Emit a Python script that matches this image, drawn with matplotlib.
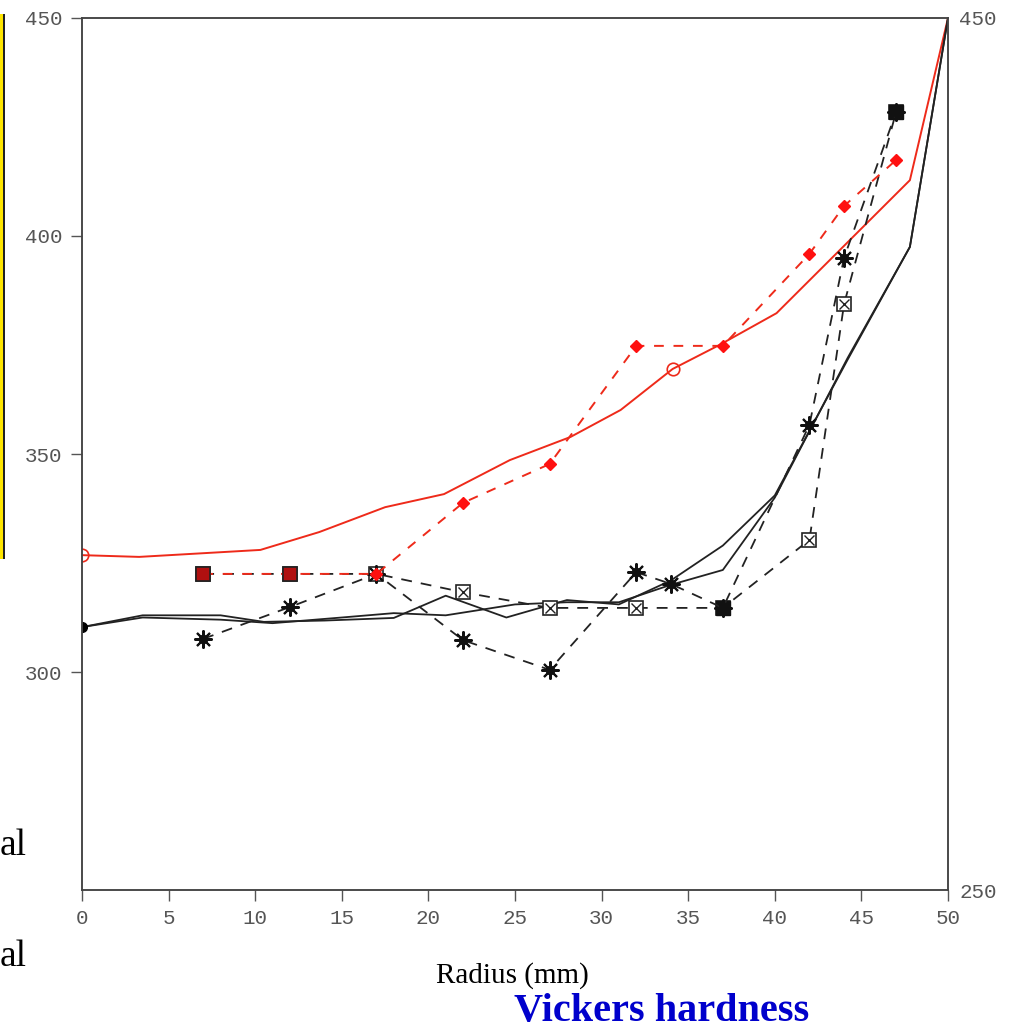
import matplotlib
matplotlib.use('Agg')
import matplotlib.pyplot as plt
from matplotlib.patches import Rectangle

# red model curve (solid)
model_x = [0, 3.3, 10.3, 13.7, 17.5, 20.9, 24.7, 28.2, 31.1, 34.1, 36.8, 40.1, 47.8, 50]
model_y = [326.8, 326.4, 328.0, 332.1, 337.8, 340.8, 348.6, 353.9, 360.1, 369.5, 375.0, 382.3, 412.8, 450]

# red measured (dashed, diamonds)
red_x = [7, 12, 17, 22, 27, 32, 37, 42, 44, 47]
red_y = [322.5, 322.5, 322.5, 338.8, 347.7, 374.8, 374.8, 395.9, 406.9, 417.4]

# black dashed, boxed-x markers
box_x = [7, 12, 17, 22, 27, 32, 37, 42, 44, 47]
box_y = [322.5, 322.5, 322.5, 318.3, 314.7, 314.7, 314.7, 330.3, 384.4, 428.4]

# black dashed, asterisk markers
star_x = [7, 12, 17, 22, 27, 32, 34, 37, 42, 44, 47]
star_y = [307.6, 314.9, 322.5, 307.3, 300.5, 322.9, 320.2, 314.7, 356.7, 395.0, 428.4]

# two black solid curves
solid_a_x = [0, 3.5, 8, 10.5, 14, 18, 21, 24.5, 28, 31, 34, 37, 40, 44.2, 47.8, 50]
solid_a_y = [310.3, 313, 313, 311.5, 311.8, 312.4, 317.5, 312.5, 316.5, 315.5, 321, 329, 340.5, 371.6, 397.5, 450]
solid_b_x = [0, 3.5, 8, 11, 15, 18, 21, 25, 28, 31, 34, 37, 40, 44.2, 47.8, 50]
solid_b_y = [310.3, 312.5, 312, 311.2, 312.5, 313.5, 313, 315.5, 316, 316, 320, 323.4, 340, 372, 397.5, 450]

x_ticks = [0, 5, 10, 15, 20, 25, 30, 35, 40, 45, 50]
left_ticks = [300, 350, 400, 450]
right_ticks = [250, 450]

fig = plt.figure(figsize=(10.3, 10.3), dpi=100)
ax = fig.add_axes([82/1030, 1-890/1030, 866/1030, 872/1030])

red = '#ee2a1a'
ax.plot(model_x, model_y, color=red, lw=1.4)
ax.plot([0, 34.1], [326.8, 369.5], ls='none', marker='o', ms=9, mfc='none', mec=red, mew=1.2)

ax.plot(solid_a_x, solid_a_y, color='#222222', lw=1.3)
ax.plot(solid_b_x, solid_b_y, color='#222222', lw=1.3)
ax.plot([0], [310.3], ls='none', marker='o', ms=7, color='black')

ax.plot(box_x, box_y, color='#222222', lw=1.3, ls=(0, (6, 5)))
ax.plot(box_x, box_y, ls='none', marker='s', ms=10, mfc='white', mec='#222222', mew=1.2)
ax.plot(box_x, box_y, ls='none', marker='x', ms=7, color='#222222', mew=1.0)
ax.plot([37, 47], [314.7, 428.4], ls='none', marker='s', ms=10, color='#111111')

ax.plot(star_x, star_y, color='#222222', lw=1.3, ls=(0, (6, 5)))
ax.plot(star_x, star_y, ls='none', marker=(8, 2, 0), ms=13, color='#111111', mew=1.5)
ax.plot(star_x, star_y, ls='none', marker='o', ms=6, color='#111111')

ax.plot(red_x, red_y, color=red, lw=1.4, ls=(0, (5, 5)))
ax.plot(red_x[2:], red_y[2:], ls='none', marker='D', ms=6, color='#ff1010')
ax.plot(red_x[:2], red_y[:2], ls='none', marker='s', ms=10, mfc='#b01010', mec='#222222', mew=1.2)

ax.set_xlim(0, 50)
ax.set_ylim(250, 450)
ax.set_xticks(x_ticks)
ax.set_yticks(left_ticks)

for s in ax.spines.values():
    s.set_color('#444444')
    s.set_linewidth(1.1)
ax.tick_params(axis='both', colors='#555555', direction='out', length=8, width=1, pad=6)
for lab in ax.get_xticklabels() + ax.get_yticklabels():
    lab.set_fontfamily('Liberation Mono')
    lab.set_fontsize(15)
    lab.set_color('#555555')

ax2 = ax.twinx()
ax2.set_ylim(250, 450)
ax2.set_yticks(right_ticks)
ax2.tick_params(axis='y', colors='#555555', direction='in', length=0, pad=8)
for lab in ax2.get_yticklabels():
    lab.set_fontfamily('Liberation Mono')
    lab.set_fontsize(15)
    lab.set_color('#555555')
for s in ax2.spines.values():
    s.set_color('#444444')
    s.set_linewidth(1.1)

# cut-off legend box on the left
fig.patches.append(Rectangle((0, 1-559/1030), 4/1030, 545/1030, transform=fig.transFigure,
                             facecolor='#ffe600', edgecolor='none'))
fig.patches.append(Rectangle((3/1030, 1-559/1030), 2/1030, 545/1030, transform=fig.transFigure,
                             facecolor='#222222', edgecolor='none'))
fig.text(0, 1-855/1030, 'al', family='Liberation Serif', fontsize=27, ha='left', va='baseline')
fig.text(0, 1-966/1030, 'al', family='Liberation Serif', fontsize=27, ha='left', va='baseline')

fig.text(512/1030, 1-983/1030, 'Radius (mm)', family='Liberation Serif', fontsize=21,
         ha='center', va='baseline')
fig.text(662/1030, 1-1021/1030, 'Vickers hardness', family='Liberation Serif', fontsize=29,
         weight='bold', color='#0000cc', ha='center', va='baseline')

fig.savefig('out.png', dpi=100)
